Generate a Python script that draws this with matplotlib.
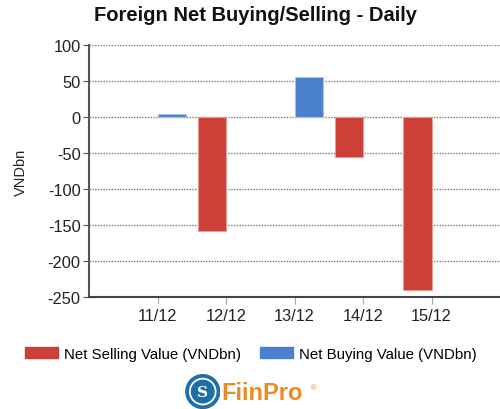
import numpy as np
import matplotlib.pyplot as plt
from matplotlib.patches import Patch, Circle

plt.rcParams['font.family'] = ['Liberation Sans', 'DejaVu Sans']

dates = ['11/12', '12/12', '13/12', '14/12', '15/12']
selling = [0, -158, 0, -56, -240]
buying = [4, 0, 56, 0, 0]
yticks = [-250, -200, -150, -100, -50, 0, 50, 100]

red = '#CC4038'
blue = '#4A80CC'

fig = plt.figure(figsize=(5, 4.1), dpi=100)
ax = fig.add_axes([0.178, 0.273, 0.822, 0.615])

x = np.arange(len(dates))
w = 0.41
sx = [i for i, v in zip(x, selling) if v != 0]
sv = [v for v in selling if v != 0]
bx = [i for i, v in zip(x, buying) if v != 0]
bv = [v for v in buying if v != 0]
ax.bar(np.array(sx) - w / 2, sv, width=w, color=red, edgecolor='#E89A94', linewidth=0.8, zorder=3)
ax.bar(np.array(bx) + w / 2, bv, width=w, color=blue, edgecolor='#A9C4EC', linewidth=0.8, zorder=3)

ax.set_xlim(-1, 5)
ax.set_ylim(-250, 100)
ax.set_yticks(yticks)
ax.set_yticklabels([str(t) for t in yticks])
ax.set_xticks(x)
ax.set_xticklabels(dates)

ax.yaxis.grid(True, linestyle=(0, (1, 1)), color='#7f7f5a', linewidth=1.0, zorder=0)
ax.set_axisbelow(True)
for s in ['top', 'right']:
    ax.spines[s].set_visible(False)
ax.spines['left'].set_color('#555555')
ax.spines['left'].set_linewidth(1.5)
ax.spines['bottom'].set_color('#444444')
ax.spines['bottom'].set_linewidth(1.5)
ax.tick_params(axis='y', length=4, color='#555555', labelsize=11.8, labelcolor='#222222', pad=2)
ax.tick_params(axis='x', length=5, color='#aaaaaa', labelsize=11.8, labelcolor='#222222', pad=3)

ax.set_ylabel('VNDbn', fontsize=10.5, color='#222222', labelpad=14)

fig.text(0.51, 0.962, 'Foreign Net Buying/Selling - Daily', ha='center', va='center',
         fontsize=14.5, fontweight='bold', color='#111111')

handles = [Patch(facecolor=red, edgecolor=red), Patch(facecolor=blue, edgecolor=blue)]
fig.legend(handles, ['Net Selling Value (VNDbn)', 'Net Buying Value (VNDbn)'],
           loc='center', bbox_to_anchor=(0.502, 0.134), ncol=2, frameon=False,
           fontsize=10.8, handlelength=2.2, handleheight=0.75, columnspacing=1.3, handletextpad=0.4)

# FiinPro logo
lax = fig.add_axes([0.368, 0.0, 0.075, 0.085])
lax.set_xlim(-1, 1)
lax.set_ylim(-1, 1)
lax.set_aspect('equal')
lax.axis('off')
lax.add_patch(Circle((0, 0), 0.97, color='#1E6FA8'))
lax.add_patch(Circle((0, 0), 0.74, fill=False, edgecolor='white', linewidth=1.3))
lax.text(0, -0.05, 'S', ha='center', va='center', color='white', fontsize=11,
         fontweight='bold', family='DejaVu Serif')
fig.text(0.443, 0.04, 'FiinPro', ha='left', va='center', fontsize=17,
         fontweight='bold', color='#EE8A22')
fig.text(0.622, 0.052, '®', ha='left', va='center', fontsize=5.5, color='#EE8A22')

fig.savefig('out.png', dpi=100)
